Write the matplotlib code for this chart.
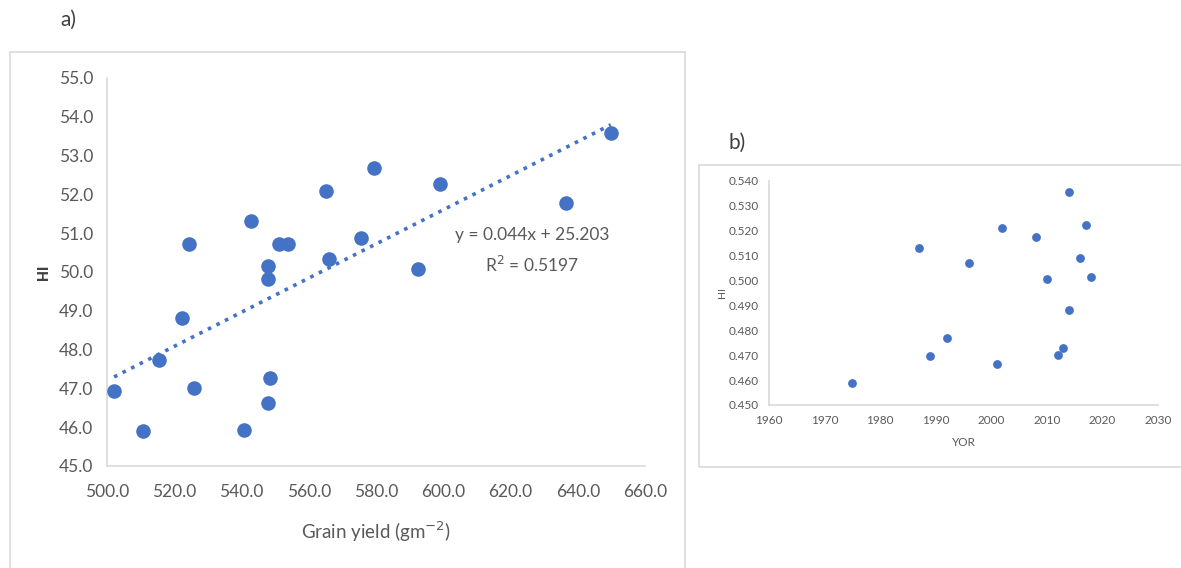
import matplotlib.pyplot as plt
from matplotlib.patches import Rectangle
import numpy as np

plt.rcParams['font.family'] = ['Lato', 'DejaVu Sans']

# a) grain yield vs harvest index
grain_yield = [502.1, 510.6, 515.4, 522.3, 524.3, 526.0, 540.6, 542.9, 548.0, 548.0, 548.6,
               548.0, 551.1, 553.9, 565.0, 566.1, 575.5, 579.3, 592.6, 599.1, 636.5, 649.8]
hi_a = [46.94, 45.89, 47.73, 48.82, 50.72, 47.00, 45.92, 51.31, 50.16, 49.83, 47.26,
        46.63, 50.72, 50.72, 52.10, 50.33, 50.87, 52.69, 50.07, 52.26, 51.77, 53.57]
slope, intercept, r2 = 0.044, 25.203, 0.5197

# b) year of release vs harvest index
yor = [1975, 1987, 1989, 1992, 1996, 2001, 2002, 2008, 2010, 2012, 2013, 2014, 2014,
       2016, 2017, 2018]
hi_b = [0.459, 0.513, 0.4696, 0.477, 0.507, 0.4665, 0.521, 0.5175, 0.5008, 0.470, 0.473,
        0.5356, 0.488, 0.509, 0.5223, 0.5016]

blue = '#4472C4'
grid_grey = '#D9D9D9'
txt = '#595959'

fig = plt.figure(figsize=(11.81, 5.68), dpi=100)

# panel frames
fig.patches.append(Rectangle((0.0085, -0.05), 0.5715, 0.9585, transform=fig.transFigure,
                             fill=False, edgecolor=grid_grey, linewidth=1.2))
fig.patches.append(Rectangle((0.5919, 0.1778), 0.45, 0.5317, transform=fig.transFigure,
                             fill=False, edgecolor=grid_grey, linewidth=1.2))

ax1 = fig.add_axes([0.0906, 0.1796, 0.4556, 0.6831])
ax1.scatter(grain_yield, hi_a, s=110, color=blue, zorder=3, linewidths=0)
xf = np.array([min(grain_yield), max(grain_yield)])
ax1.plot(xf, slope * xf + intercept, ':', color=blue, linewidth=2.6, zorder=2)
ax1.set_xlim(500, 660)
ax1.set_ylim(45, 55)
ax1.set_xticks(np.arange(500, 661, 20))
ax1.set_yticks(np.arange(45, 55.1, 1))
ax1.xaxis.set_major_formatter(lambda v, p: f'{v:.1f}')
ax1.yaxis.set_major_formatter(lambda v, p: f'{v:.1f}')
ax1.tick_params(length=0, labelsize=12.5, labelcolor=txt)
ax1.tick_params(axis='y', pad=10)
ax1.tick_params(axis='x', pad=13)
ax1.set_xlabel('Grain yield (gm$^{-2}$)', fontsize=13.5, color=txt)
ax1.set_ylabel('HI', fontsize=11, color='#404040', fontweight='bold',
               family=['Roboto', 'DejaVu Sans'])
ax1.xaxis.set_label_coords(0.5, -0.138)
ax1.yaxis.set_label_coords(-0.104, 0.5)
ax1.text(0.79, 0.555, f'y = {slope}x + {intercept}\nR$^2$ = {r2}',
         transform=ax1.transAxes, ha='center', va='center', fontsize=12.5,
         color=txt, linespacing=1.7)

ax2 = fig.add_axes([0.6511, 0.2870, 0.3294, 0.3944])
ax2.scatter(yor, hi_b, s=40, color=blue, zorder=3, linewidths=0)
ax2.set_xlim(1960, 2030)
ax2.set_ylim(0.45, 0.54)
ax2.set_xticks(np.arange(1960, 2031, 10))
ax2.set_yticks(np.arange(0.45, 0.5401, 0.01))
ax2.yaxis.set_major_formatter(lambda v, p: f'{v:.3f}')
ax2.tick_params(length=0, labelsize=8.5, labelcolor=txt, pad=7)
ax2.set_xlabel('YOR', fontsize=8.5, color=txt)
ax2.set_ylabel('HI', fontsize=7.5, color=txt)
ax2.xaxis.set_label_coords(0.5, -0.143)
ax2.yaxis.set_label_coords(-0.108, 0.5)

for ax in (ax1, ax2):
    for side in ('top', 'right'):
        ax.spines[side].set_visible(False)
    for side in ('left', 'bottom'):
        ax.spines[side].set_color(grid_grey)
        ax.spines[side].set_linewidth(1.2)

fig.text(0.051, 0.965, 'a)', fontsize=15, color='#404040', va='center')
fig.text(0.617, 0.748, 'b)', fontsize=15, color='#404040', va='center')

fig.savefig('out.png', dpi=100)
